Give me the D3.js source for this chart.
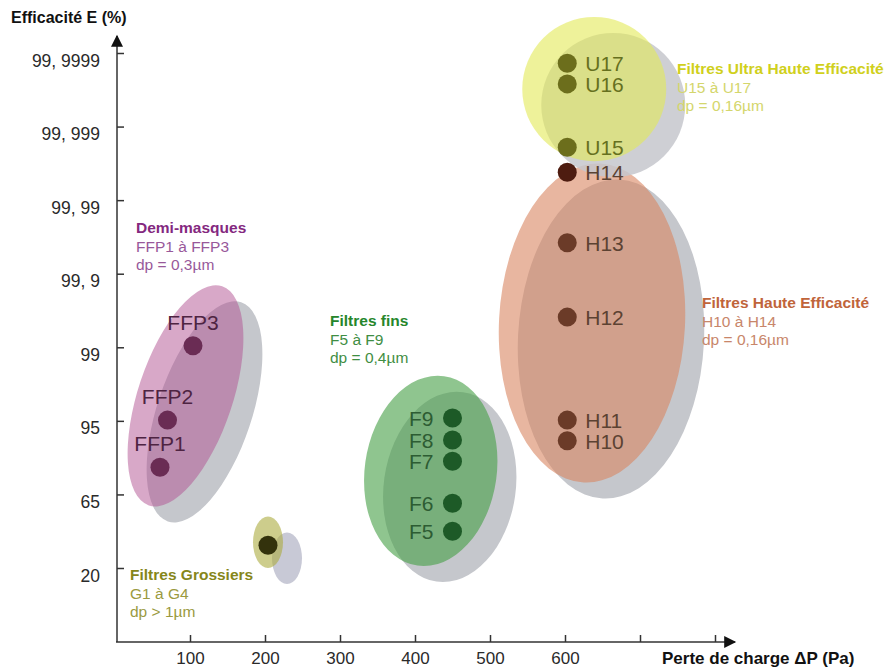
<!DOCTYPE html>
<html>
<head>
<meta charset="utf-8">
<script src="https://cdn.jsdelivr.net/npm/d3@7"></script>
<style>
  body { margin: 0; background: #fff; }
  svg { font-family: "Liberation Sans", Arial, sans-serif; }
</style>
</head>
<body>
<svg id="chart" width="895" height="670"></svg>
<script>
// y axis is a class scale: each label is one step
const yLabels = ["20", "65", "95", "99", "99, 9", "99, 99", "99, 999", "99, 9999"];
const xTicks = [100, 200, 300, 400, 500, 600, 700, 800];
const xTickLabels = ["100", "200", "300", "400", "500", "600", "", ""];

// filters: pressure drop (Pa) and class level on the y scale
const ffpNames = ["FFP1", "FFP2", "FFP3"];
const ffpPa = [60, 70, 104];
const ffpLevel = [1.37, 2.01, 3.02];

const gNames = [""];
const gPa = [204];
const gLevel = [0.31];

const fNames = ["F5", "F6", "F7", "F8", "F9"];
const fPa = [450, 450, 450, 450, 450];
const fLevel = [0.50, 0.88, 1.45, 1.74, 2.04];

const hNames = ["H10", "H11", "H12", "H13", "H14"];
const hPa = [603, 603, 603, 603, 603];
const hLevel = [1.73, 2.01, 3.41, 4.42, 5.38];

const uNames = ["U15", "U16", "U17"];
const uPa = [603, 603, 603];
const uLevel = [5.72, 6.58, 6.86];

// zones around each family: centre (Pa, level), half widths (Pa, level), tilt
const zoneNames = ["ffp", "g", "f", "h", "u"];
const zonePa = [94, 204, 421, 636, 639];
const zoneLevel = [2.34, 0.35, 1.32, 3.33, 6.51];
const zoneHalfPa = [63, 20, 88, 124, 96];
const zoneHalfLevel = [1.57, 0.35, 1.30, 2.17, 0.98];
const zoneTilt = [18.5, 0, 8, 3, 0];

const svg = d3.select("#chart");

const x = d3.scaleLinear().domain([0, 800]).range([115, 715]);
const y = d3.scaleLinear().domain([0, 7]).range([568, 53]);
const x0 = 117, y0 = 642;

const zoneFill = {
    ffp: "rgba(177,81,145,0.5)",
    g: "rgba(172,172,63,0.6)",
    f: "rgba(68,158,68,0.6)",
    h: "rgba(217,133,97,0.6)",
    u: "rgba(227,233,87,0.6)"
};

// zones: grey shadow then translucent colour
zoneNames.forEach((name, i) => {
    const cx = x(zonePa[i]), cy = y(zoneLevel[i]);
    const rx = x(zonePa[i] + zoneHalfPa[i]) - cx;
    const ry = cy - y(zoneLevel[i] + zoneHalfLevel[i]);
    svg.append("ellipse")
        .attr("rx", rx).attr("ry", ry)
        .attr("transform", `translate(${cx + 19},${cy + 16}) rotate(${zoneTilt[i]})`)
        .attr("fill", name === "g" ? "#c8c9d6" : "#c5c7cc")
        .attr("fill-opacity", name === "u" ? 0.85 : 1);
    svg.append("ellipse")
        .attr("rx", rx).attr("ry", ry)
        .attr("transform", `translate(${cx},${cy}) rotate(${zoneTilt[i]})`)
        .attr("fill", zoneFill[name]);
});

// axes
const defs = svg.append("defs");
defs.append("marker")
    .attr("id", "arrow")
    .attr("viewBox", "0 0 10 10")
    .attr("refX", 9).attr("refY", 5)
    .attr("markerWidth", 14).attr("markerHeight", 12)
    .attr("markerUnits", "userSpaceOnUse")
    .attr("orient", "auto")
    .append("path")
    .attr("d", "M0,0 L10,5 L0,10 Z")
    .attr("fill", "#111");

svg.append("line")
    .attr("x1", x0).attr("y1", y0).attr("x2", x0).attr("y2", 36)
    .attr("stroke", "#333").attr("stroke-width", 1.5)
    .attr("marker-end", "url(#arrow)");
svg.append("line")
    .attr("x1", x0 - 1).attr("y1", y0).attr("x2", 735).attr("y2", y0)
    .attr("stroke", "#333").attr("stroke-width", 1.5)
    .attr("marker-end", "url(#arrow)");

const yAxis = svg.append("g")
    .attr("transform", `translate(${x0},0)`)
    .call(d3.axisLeft(y).tickValues(d3.range(yLabels.length))
        .tickFormat(i => yLabels[i]).tickSize(-7).tickPadding(17));
yAxis.select(".domain").remove();
yAxis.selectAll("line").attr("stroke", "#333").attr("stroke-width", 1.5);
yAxis.selectAll("text")
    .attr("font-size", "17.5px").attr("fill", "#2a2a2a")
    .attr("font-family", "Liberation Sans, Arial, sans-serif")
    .attr("dy", "0.75em");

const xAxis = svg.append("g")
    .attr("transform", `translate(0,${y0})`)
    .call(d3.axisBottom(x).tickValues(xTicks)
        .tickFormat((d, i) => xTickLabels[i]).tickSize(-7).tickPadding(10));
xAxis.select(".domain").remove();
xAxis.selectAll("line").attr("stroke", "#333").attr("stroke-width", 1.5);
xAxis.selectAll("text")
    .attr("font-size", "17px").attr("fill", "#2a2a2a")
    .attr("font-family", "Liberation Sans, Arial, sans-serif");

svg.append("text")
    .attr("x", 11).attr("y", 23)
    .attr("font-size", "16px").attr("font-weight", "bold").attr("fill", "#111")
    .text("Efficacité E (%)");
svg.append("text")
    .attr("x", 662).attr("y", 664)
    .attr("font-size", "17px").attr("font-weight", "bold").attr("fill", "#111")
    .text("Perte de charge ΔP (Pa)");

// points and their names
function drawFamily(names, pa, level, dotColor, textColor, place) {
    const g = svg.append("g");
    const rows = names.map((n, i) => ({ name: n, px: x(pa[i]), py: y(level[i]) }));
    g.selectAll("circle").data(rows).join("circle")
        .attr("cx", d => d.px).attr("cy", d => d.py).attr("r", 9.5)
        .attr("fill", (d, i) => typeof dotColor === "function" ? dotColor(d, i) : dotColor);
    const t = g.selectAll("text").data(rows).join("text")
        .attr("font-size", "21px").attr("fill", textColor)
        .text(d => d.name);
    if (place === "above") {
        t.attr("x", d => d.px).attr("y", d => d.py - 16).attr("text-anchor", "middle");
    } else if (place === "left") {
        t.attr("x", d => d.px - 19).attr("y", d => d.py + 8).attr("text-anchor", "end");
    } else {
        t.attr("x", d => d.px + 18).attr("y", d => d.py + 8);
    }
}

drawFamily(ffpNames, ffpPa, ffpLevel, "#6a2c54", "#4e2442", "above");
drawFamily(gNames, gPa, gLevel, "#33320c", "#33320c", "right");
drawFamily(fNames, fPa, fLevel, "#1d5a27", "#2d5c33", "left");
drawFamily(hNames, hPa, hLevel, (d, i) => i === 4 ? "#4e1c10" : "#6b3b28", "#5c4232", "right");
drawFamily(uNames, uPa, uLevel, "#6c6e1c", "#66701e", "right");

// family notes
const notes = [
    { x: 136, y: 233, lines: ["Demi-masques", "FFP1 à FFP3", "dp = 0,3µm"], c1: "#84287f", c2: "#98589a" },
    { x: 330, y: 326, lines: ["Filtres fins", "F5 à F9", "dp = 0,4µm"], c1: "#26862b", c2: "#3f8e43" },
    { x: 130, y: 580, lines: ["Filtres Grossiers", "G1 à G4", "dp > 1µm"], c1: "#86861a", c2: "#9a9a40" },
    { x: 677, y: 74, lines: ["Filtres Ultra Haute Efficacité", "U15 à U17", "dp = 0,16µm"], c1: "#d0d01c", c2: "#d4d66c" },
    { x: 702, y: 308, lines: ["Filtres Haute Efficacité", "H10 à H14", "dp = 0,16µm"], c1: "#c0643a", c2: "#c8866a" }
];

notes.forEach(n => {
    const t = svg.append("text").attr("x", n.x).attr("y", n.y).attr("font-size", "15.5px");
    n.lines.forEach((line, i) => {
        t.append("tspan")
            .attr("x", n.x)
            .attr("dy", i === 0 ? 0 : 18.5)
            .attr("font-weight", i === 0 ? "bold" : "normal")
            .attr("fill", i === 0 ? n.c1 : n.c2)
            .text(line);
    });
});
</script>
</body>
</html>
